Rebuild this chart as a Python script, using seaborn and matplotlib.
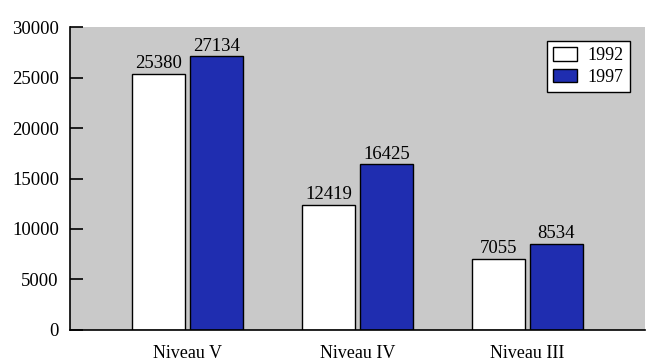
import matplotlib.pyplot as plt
import seaborn as sns
import pandas as pd

# Data
niveaux = ['Niveau V', 'Niveau IV', 'Niveau III']
annees = ['1992', '1997']
valeurs_1992 = [25380, 12419, 7055]
valeurs_1997 = [27134, 16425, 8534]

df = pd.DataFrame({
    'niveau': niveaux * 2,
    'annee': [annees[0]] * 3 + [annees[1]] * 3,
    'effectif': valeurs_1992 + valeurs_1997,
})

sns.set_theme(style="white")
plt.rcParams['font.family'] = ['Liberation Serif', 'DejaVu Serif']
plt.rcParams['text.color'] = 'black'
plt.rcParams['xtick.color'] = 'black'
plt.rcParams['ytick.color'] = 'black'

fig = plt.figure(figsize=(6.51, 3.61), dpi=100)
ax = fig.add_axes([0.1075, 0.086, 0.883, 0.839])
ax.set_facecolor('#c9c9c9')

sns.barplot(data=df, x='niveau', y='effectif', hue='annee', ax=ax,
            palette={'1992': 'white', '1997': '#1f2db0'},
            width=0.68, gap=0.08, edgecolor='black', linewidth=1.0,
            saturation=1)

for cont in ax.containers:
    ax.bar_label(cont, fmt='%d', padding=1, fontsize=13.5)

ax.set_ylim(0, 30000)
ax.set_xlim(-0.69, 2.69)
ax.set_yticks(range(0, 30001, 5000))
ax.tick_params(axis='y', direction='in', length=9, width=1.2, labelsize=13.5,
               left=True, pad=8)
ax.tick_params(axis='x', length=0, labelsize=13, pad=11)
ax.set_xlabel('')
ax.set_ylabel('')

for s in ['top', 'right']:
    ax.spines[s].set_visible(False)
ax.spines['left'].set_color('black')
ax.spines['bottom'].set_color('black')
ax.spines['left'].set_linewidth(1.2)
ax.spines['bottom'].set_linewidth(1.2)

leg = ax.legend(title=None, loc='upper right', bbox_to_anchor=(0.99, 0.985),
                fontsize=13, frameon=True, fancybox=False,
                handlelength=1.3, handleheight=0.8, handletextpad=0.6,
                borderpad=0.35, labelspacing=0.25)
leg.get_frame().set_edgecolor('black')
leg.get_frame().set_facecolor('white')
leg.get_frame().set_alpha(1)
leg.get_frame().set_linewidth(1.0)

fig.savefig('out.png', dpi=100)
